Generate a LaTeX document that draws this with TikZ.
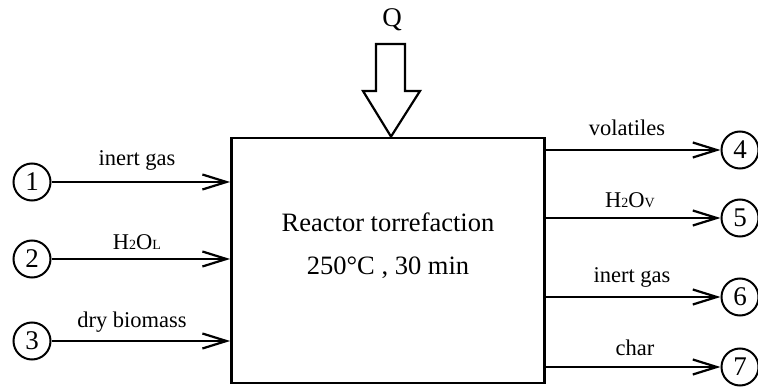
\documentclass[tikz,border=0pt]{standalone}
\usepackage{fontspec}
\setmainfont{Liberation Serif}
\usetikzlibrary{positioning,arrows.meta}
\newcommand{\lowidx}[1]{{\fontsize{14}{14}\selectfont #1}}

\begin{document}
\begin{tikzpicture}[
  x=1pt,y=-1pt,
  line width=2.4pt,
  stream/.style={draw,circle,minimum size=37pt,inner sep=0pt,line width=2pt,font=\fontsize{27}{29}\selectfont},
  lbl/.style={font=\fontsize{22.5}{24}\selectfont,inner sep=0pt},
  flow/.style={-{Straight Barb[length=24pt,width=15pt,line width=2.2pt]}},
]
  \useasboundingbox (0,0) rectangle (758,387);

  % reactor
  \node[draw,line width=2.8pt,minimum width=313pt,minimum height=245pt,inner sep=0pt] (reactor) at (388,260.5) {};
  \node[font=\fontsize{26.5}{28}\selectfont] (rname) at (388,222) {Reactor torrefaction};
  \node[font=\fontsize{26.5}{28}\selectfont] (rcond) at (388,268) {250\textdegree C , 30 min};

  % heat input
  \node[font=\fontsize{27}{29}\selectfont] (Q) at (392,20) {Q};
  \draw[line width=2.2pt,line join=miter] (376,44) -- (405,44) -- (405,91) -- (420,91)
    -- (reactor.north -| 391,0) -- (363,91) -- (376,91) -- cycle;

  % inlets
  \node[stream] (s1) at (32,182) {1};
  \node[stream] (s2) at (32,259) {2};
  \node[stream] (s3) at (32,341) {3};

  % outlets
  \node[stream] (s4) at (740,150) {4};
  \node[stream] (s5) at (740,218) {5};
  \node[stream] (s6) at (740,297) {6};
  \node[stream] (s7) at (740,367) {7};

  \draw[flow] (s1) -- (reactor.west |- s1);
  \draw[flow] (s2) -- (reactor.west |- s2);
  \draw[flow] (s3) -- (reactor.west |- s3);
  \draw[flow] (reactor.east |- s4) -- (s4);
  \draw[flow] (reactor.east |- s5) -- (s5);
  \draw[flow] (reactor.east |- s6) -- (s6);
  \draw[flow] (reactor.east |- s7) -- (s7);

  % labels
  \node[lbl] (l1) at (137,160) {inert gas};
  \node[lbl] (l2) at (137,242) {H\lowidx{2}O\lowidx{L}};
  \node[lbl] (l3) at (132,322) {dry biomass};
  \node[lbl] (l4) at (627,128) {volatiles};
  \node[lbl] (l5) at (630,200) {H\lowidx{2}O\lowidx{V}};
  \node[lbl] (l6) at (632,277) {inert gas};
  \node[lbl] (l7) at (635,348) {char};
\end{tikzpicture}
\end{document}
